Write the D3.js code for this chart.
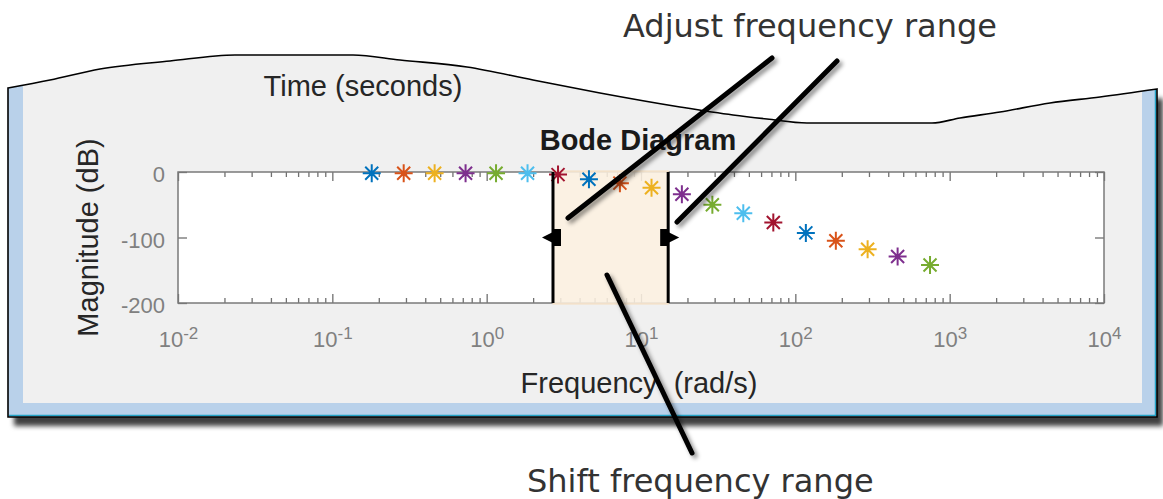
<!DOCTYPE html>
<html>
<head>
<meta charset="utf-8">
<script src="https://cdn.jsdelivr.net/npm/d3@7"></script>
<style>
  body { margin: 0; background: #fff; }
  svg { display: block; }
  .tick line { stroke: #707070; stroke-width: 1.3; }
  .axis path.domain { display: none; }
</style>
</head>
<body>
<svg id="chart" width="1163" height="499"></svg>
<script>
// bode magnitude samples
var freq = [0.18, 0.29, 0.46, 0.73, 1.15, 1.84, 2.9, 4.6, 7.3, 11.7, 18.4, 29, 46, 72, 117, 183, 294, 460, 746];
var magDb = [-2, -2, -2, -2, -2, -2, -4, -11, -17, -24, -34, -50, -63, -77, -93, -105, -118, -129, -142];
var seriesColors = ["#0072BD", "#D95319", "#EDB120", "#7E2F8E", "#77AC30", "#4DBEEE", "#A2142F"];
var xTickVals = [1e-2, 1e-1, 1, 10, 100, 1000, 1e4];
var yTickVals = [0, -100, -200];
var freqRange = [2.69, 15];

var titleText = "Bode Diagram";
var timeText = "Time (seconds)";
var xLabelText = "Frequency  (rad/s)";
var yLabelText = "Magnitude (dB)";
var noteTop = "Adjust frequency range";
var noteBottom = "Shift frequency range";

// layout
var box = {left: 178, right: 1104, top: 172, bottom: 303};
var tornEdge = [[8,88],[50,80],[100,69],[170,61],[235,55],[353,55],[400,60],[467,67],[533,80],
                [600,93],[680,107],[733,115],[767,119],[807,123],[932,123],[960,118],[1000,112],
                [1050,103],[1100,97],[1157,89]];
var panelBottom = 417, panelRight = 1157, panelLeft = 8;

var svg = d3.select("#chart");
var defs = svg.append("defs");

var shadowF = defs.append("filter").attr("id", "panelShadow")
    .attr("x", "-5%").attr("y", "-5%").attr("width", "115%").attr("height", "120%");
shadowF.append("feDropShadow").attr("dx", 6).attr("dy", 9).attr("stdDeviation", 2.5)
    .attr("flood-color", "#000").attr("flood-opacity", 0.75);

var lineF = defs.append("filter").attr("id", "lineShadow")
    .attr("x", "-20%").attr("y", "-20%").attr("width", "140%").attr("height", "140%");
lineF.append("feDropShadow").attr("dx", 3).attr("dy", 3).attr("stdDeviation", 2)
    .attr("flood-color", "#000").attr("flood-opacity", 0.45);

// outline of the torn panel
var edgeLine = d3.line().curve(d3.curveMonotoneX);
var outline = edgeLine(tornEdge) + "L" + panelRight + "," + panelBottom + "L" + panelLeft + "," + panelBottom + "Z";

defs.append("clipPath").attr("id", "panelClip").append("path").attr("d", outline);

svg.append("path").attr("d", outline).attr("fill", "#B9D1EA").attr("filter", "url(#panelShadow)");

svg.append("g").attr("clip-path", "url(#panelClip)")
  .append("rect").attr("x", 23).attr("y", 0).attr("width", 1142 - 23).attr("height", 403)
  .attr("fill", "#F0F0F0");

svg.append("path")
  .attr("d", "M" + (panelRight - 1.5) + ",90V" + (panelBottom - 1.5) + "H" + (panelLeft + 1))
  .attr("fill", "none").attr("stroke", "#23A3C6").attr("stroke-width", 1.5);

svg.append("path").attr("d", outline).attr("fill", "none")
  .attr("stroke", "#000").attr("stroke-width", 1.6);

// scales
var x = d3.scaleLog().domain([1e-2, 1e4]).range([box.left, box.right]);
var y = d3.scaleLinear().domain([-200, 0]).range([box.bottom, box.top]);

svg.append("rect")
  .attr("x", box.left).attr("y", box.top)
  .attr("width", box.right - box.left).attr("height", box.bottom - box.top)
  .attr("fill", "#fff");

var minorTicks = x.ticks().filter(function(d){
  return Math.abs(Math.log10(d) - Math.round(Math.log10(d))) > 1e-6;
});

function styleAxis(g){ g.attr("class", "axis"); g.select(".domain").remove(); }

var xBottom = svg.append("g").attr("transform", "translate(0," + box.bottom + ")")
  .call(d3.axisBottom(x).tickValues(xTickVals).tickSize(-9))
  .call(styleAxis);
xBottom.selectAll("text")
  .attr("y", 44).attr("dy", null)
  .attr("font-family", "Liberation Sans, Arial, sans-serif")
  .attr("font-size", 22).attr("fill", "#808080")
  .each(function(d){
    var t = d3.select(this);
    t.text("10");
    t.append("tspan").attr("dy", -8).attr("font-size", 17).text(Math.round(Math.log10(d)));
  });

svg.append("g").attr("transform", "translate(0," + box.bottom + ")")
  .call(d3.axisBottom(x).tickValues(minorTicks).tickSize(-5).tickFormat(""))
  .call(styleAxis);
svg.append("g").attr("transform", "translate(0," + box.top + ")")
  .call(d3.axisTop(x).tickValues(xTickVals).tickSize(-9).tickFormat(""))
  .call(styleAxis);
svg.append("g").attr("transform", "translate(0," + box.top + ")")
  .call(d3.axisTop(x).tickValues(minorTicks).tickSize(-5).tickFormat(""))
  .call(styleAxis);

var yLeft = svg.append("g").attr("transform", "translate(" + box.left + ",0)")
  .call(d3.axisLeft(y).tickValues(yTickVals).tickSize(-9).tickPadding(13).tickFormat(d3.format("d")))
  .call(styleAxis);
yLeft.selectAll("text")
  .attr("dy", "0.45em")
  .attr("font-family", "Liberation Sans, Arial, sans-serif")
  .attr("font-size", 22).attr("fill", "#808080")
  .text(function(d){ return String(d).replace("\u2212", "-"); });

svg.append("g").attr("transform", "translate(" + box.right + ",0)")
  .call(d3.axisRight(y).tickValues(yTickVals).tickSize(-9).tickFormat(""))
  .call(styleAxis);

svg.append("rect")
  .attr("x", box.left).attr("y", box.top)
  .attr("width", box.right - box.left).attr("height", box.bottom - box.top)
  .attr("fill", "none").attr("stroke", "#7a7a7a").attr("stroke-width", 1.5);

// selected frequency band
var bx0 = x(freqRange[0]), bx1 = x(freqRange[1]);
svg.append("rect")
  .attr("x", bx0).attr("y", box.top - 1)
  .attr("width", bx1 - bx0).attr("height", box.bottom - box.top + 2)
  .attr("fill", "#FBEFDF").attr("fill-opacity", 0.88)
  .attr("stroke", "#F6DDBE").attr("stroke-width", 1);

// markers
var star = "M-9,0H9M0,-9V9M-6.5,-6.5L6.5,6.5M-6.5,6.5L6.5,-6.5";
var pts = svg.append("g").selectAll("g")
  .data(freq.map(function(f, i){ return {f: f, m: magDb[i], c: seriesColors[i % seriesColors.length]}; }))
  .enter().append("g")
  .attr("transform", function(d){ return "translate(" + x(d.f) + "," + y(d.m) + ")"; });
pts.append("path").attr("d", star).attr("fill", "none")
  .attr("stroke", function(d){ return d.c; }).attr("stroke-width", 2);
pts.append("circle").attr("r", 2.6).attr("fill", function(d){ return d.c; });

// band edges and drag handles
[bx0, bx1].forEach(function(bx, i){
  var dir = i == 0 ? -1 : 1;
  var ym = y(-100);
  svg.append("line").attr("x1", bx).attr("x2", bx).attr("y1", box.top).attr("y2", box.bottom)
    .attr("stroke", "#000").attr("stroke-width", 3);
  svg.append("rect").attr("x", i == 0 ? bx : bx - 8).attr("y", ym - 8.5)
    .attr("width", 8).attr("height", 17).attr("fill", "#000");
  svg.append("path")
    .attr("d", "M" + bx + "," + (ym - 5.5) + "L" + (bx + dir * 11) + "," + ym + "L" + bx + "," + (ym + 5.5) + "Z")
    .attr("fill", "#000");
});

// texts
var lab = "Liberation Sans, Arial, sans-serif";
svg.append("text").attr("x", 363).attr("y", 96).attr("text-anchor", "middle")
  .attr("font-family", lab).attr("font-size", 29).attr("fill", "#262626").text(timeText);
svg.append("text").attr("x", 638).attr("y", 150).attr("text-anchor", "middle")
  .attr("font-family", lab).attr("font-size", 29).attr("font-weight", "bold").attr("fill", "#1a1a1a").text(titleText);
svg.append("text").attr("x", 639).attr("y", 393).attr("text-anchor", "middle")
  .attr("font-family", lab).attr("font-size", 29).attr("fill", "#262626")
  .style("white-space", "pre").text(xLabelText);
svg.append("text").attr("transform", "translate(98,237.5) rotate(-90)").attr("text-anchor", "middle")
  .attr("font-family", lab).attr("font-size", 29).attr("fill", "#262626").text(yLabelText);

// call-out lines
var callouts = [
  [[772, 58], [568, 218]],
  [[837, 61], [677, 222]],
  [[607, 275], [692, 453]]
];
svg.append("g").attr("filter", "url(#lineShadow)").selectAll("line")
  .data(callouts).enter().append("line")
  .attr("x1", function(d){ return d[0][0]; }).attr("y1", function(d){ return d[0][1]; })
  .attr("x2", function(d){ return d[1][0]; }).attr("y2", function(d){ return d[1][1]; })
  .attr("stroke", "#000").attr("stroke-width", 5).attr("stroke-linecap", "round");

svg.append("text").attr("x", 623).attr("y", 37)
  .attr("font-family", "DejaVu Sans, Verdana, sans-serif").attr("font-size", 32).attr("fill", "#333")
  .text(noteTop);
svg.append("text").attr("x", 527).attr("y", 492)
  .attr("font-family", "DejaVu Sans, Verdana, sans-serif").attr("font-size", 32).attr("fill", "#333")
  .text(noteBottom);
</script>
</body>
</html>
